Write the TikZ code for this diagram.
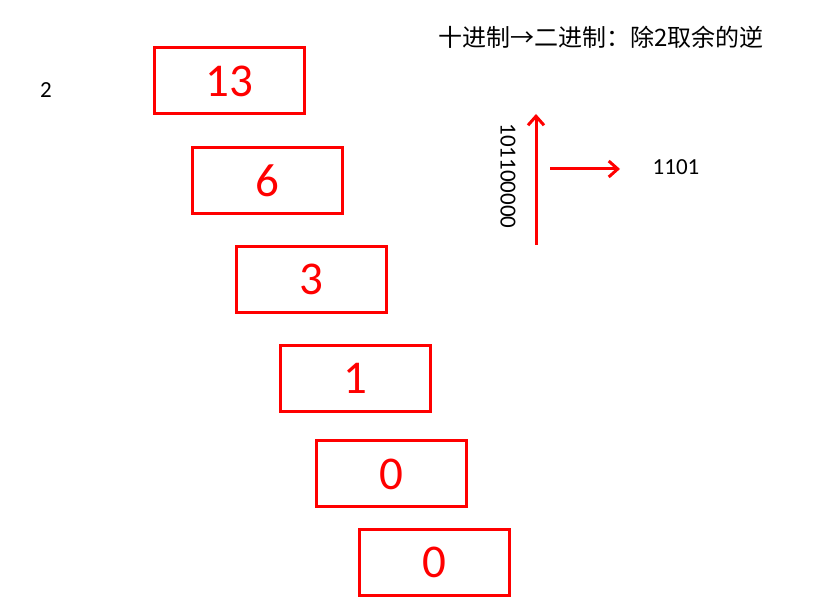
\documentclass[tikz,border=0pt]{standalone}
\usepackage{fontspec}
\setmainfont{Carlito}
\newfontfamily\cjk{Noto Sans CJK SC}
\usetikzlibrary{arrows.meta,positioning}
\tikzstyle{num}=[draw=red, line width=3pt, minimum width=150pt, minimum height=66pt, inner sep=0pt, text=red, font=\fontsize{47}{52}\selectfont]
\tikzstyle{lab}=[inner sep=0pt, font=\fontsize{23}{27}\selectfont]
\tikzstyle{arr}=[red, line width=3pt, -{Straight Barb[length=9pt,width=16pt]}]

\begin{document}
\begin{tikzpicture}[x=1pt, y=-1pt]
        \useasboundingbox (0,0) rectangle (815,609);
        %
        \node at (601,37) [lab, font=\cjk\fontsize{24}{28}\selectfont] (title) {十进制→二进制：除2取余的逆};
        \node at (46,90) [lab] (base) {2};
        %
        \node at (229.5,81) [num] (n13) {13};
        \node at (267.5,180.5) [num] (n6) {6};
        \node at (311.5,279.5) [num] (n3) {3};
        \node at (355.5,378.5) [num] (n1) {1};
        \node at (391.5,474) [num] (n0a) {0};
        \node at (434.5,562.5) [num] (n0b) {0};
        %
        \node at (508,176) [lab, rotate=-90] (bits) {101100000};
        \coordinate (up0) at (536,245);
        \coordinate (up1) at (536,114);
        \draw[arr] (up0) -- (up1);
        \coordinate (rt0) at (550,169);
        \coordinate (rt1) at (620,169);
        \draw[arr] (rt0) -- (rt1);
        \node at (676,167) [lab] (res) {1101};
\end{tikzpicture}
\end{document}
